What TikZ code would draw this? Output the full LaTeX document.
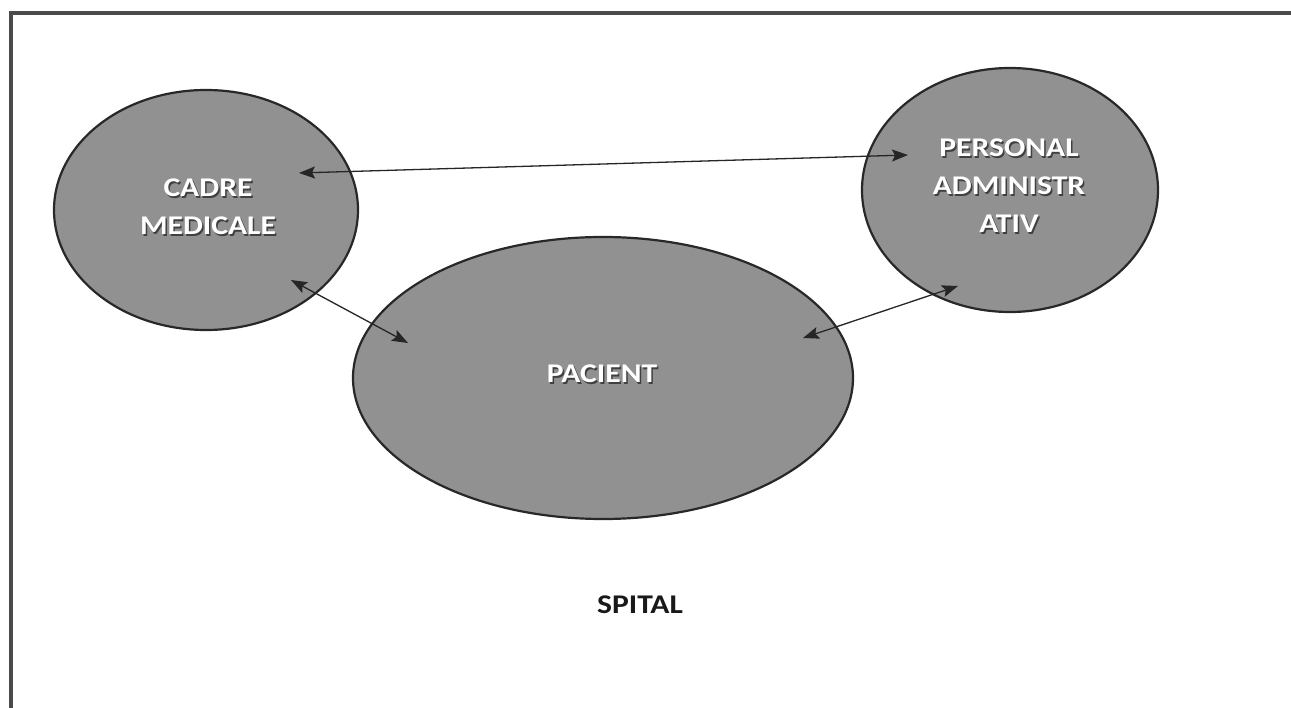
\documentclass[tikz,border=0pt]{standalone}
\usepackage{fontspec}
\setmainfont{Carlito}
\newfontfamily\labelfont[FakeStretch=1.17]{Carlito}
\usetikzlibrary{arrows.meta,shapes.geometric}
\definecolor{bubblefill}{RGB}{145,145,145}
\definecolor{bubbleedge}{RGB}{40,40,40}
\definecolor{framecol}{RGB}{75,75,75}
\tikzset{
  bubble/.style={ellipse, draw=bubbleedge, line width=2.2pt, fill=bubblefill, inner sep=0pt},
  labelfontstyle/.style={font=\labelfont\bfseries\fontsize{27}{38}\selectfont, align=center, inner sep=0pt, anchor=base},
  bubbletext/.style={labelfontstyle, text=white},
  shadowtext/.style={labelfontstyle, text=black!75},
  link/.style={line width=1.3pt, draw=black!85,
    {Stealth[length=16pt,width=12pt,inset=3pt]}-{Stealth[length=16pt,width=12pt,inset=3pt]}}
}
\begin{document}
\begin{tikzpicture}[x=1pt,y=-1pt]
  \useasboundingbox (0,0) rectangle (1291,708);
  \fill[white] (0,0) rectangle (1291,708);
  % outer frame, cut off at the right and bottom
  \draw[framecol, line width=4pt] (10.5,708) -- (10.5,13) -- (1291,13);

  % the three groups
  \node[bubble, minimum width=304pt, minimum height=240pt] (cadre) at (206,210) {};
  \node[bubble, minimum width=296pt, minimum height=244pt] (admin) at (1010,190) {};
  \node[bubble, minimum width=500pt, minimum height=282pt] (pacient) at (603,378) {};

  % labels with a light drop shadow (anchored at the last line's baseline)
  \node[shadowtext] at (209.5,236.5) {CADRE\\MEDICALE};
  \node[bubbletext] (cadrelbl) at (208,235) {CADRE\\MEDICALE};
  \node[shadowtext] at (1010.5,234.5) {PERSONAL\\ADMINISTR\\ATIV};
  \node[bubbletext] (adminlbl) at (1009,233) {PERSONAL\\ADMINISTR\\ATIV};
  \node[shadowtext] at (603.5,384.5) {PACIENT};
  \node[bubbletext] (pacientlbl) at (602,383) {PACIENT};

  \node[labelfontstyle, text=black!90] (spital) at (640,613) {SPITAL};

  % arrow end points inside the ellipses
  \coordinate (cadreTop) at (299,173);
  \coordinate (adminLeft) at (908,155);
  \coordinate (cadreLow) at (291,280);
  \coordinate (pacLeft) at (408,343);
  \coordinate (pacRight) at (803,338);
  \coordinate (adminLow) at (958,286);

  \draw[link] (cadreTop) -- (adminLeft);
  \draw[link] (cadreLow) -- (pacLeft);
  \draw[link] (pacRight) -- (adminLow);
\end{tikzpicture}
\end{document}
